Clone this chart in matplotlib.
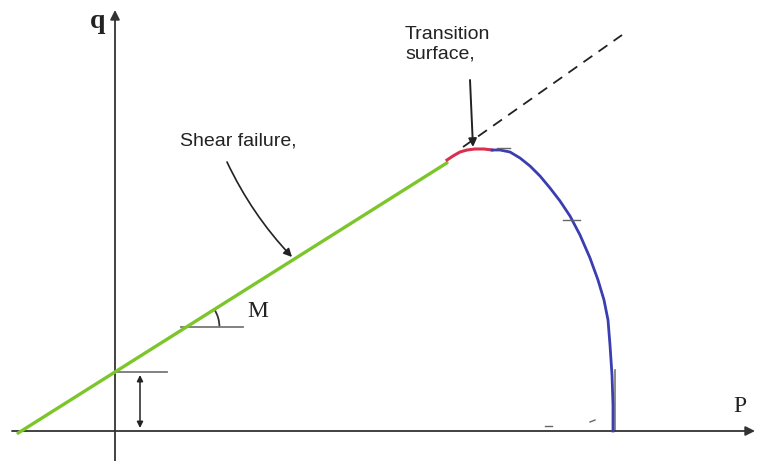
import matplotlib.pyplot as plt
import numpy as np
from matplotlib.patches import Arc

# p-q space (schematic units: 1 unit ~ 100 px)
slope_m = 0.63
intercept = 0.59
shear_p = np.array([-0.97, 3.32])

transition_p = [3.32, 3.38, 3.45, 3.52, 3.60, 3.69, 3.77]
transition_q = [2.71, 2.75, 2.79, 2.81, 2.82, 2.82, 2.81]

cap_p = [3.77, 3.85, 3.95, 4.05, 4.15, 4.25, 4.35, 4.45, 4.55, 4.65, 4.75,
         4.83, 4.89, 4.93, 4.95, 4.97, 4.98, 4.98]
cap_q = [2.81, 2.81, 2.79, 2.73, 2.65, 2.55, 2.43, 2.30, 2.15, 1.96, 1.73,
         1.51, 1.31, 1.11, 0.86, 0.56, 0.26, 0.0]

dashed_p = [3.48, 5.07]
dashed_q = [2.84, 3.96]

# small scan marks sitting on the curves
tick_p = [[3.82, 3.95], [4.48, 4.65], [4.30, 4.37], [4.75, 4.80]]
tick_q = [[2.83, 2.83], [2.11, 2.11], [0.05, 0.05], [0.09, 0.11]]

p_axis = (-1.03, 6.40)
q_axis = (-0.30, 4.21)

fig = plt.figure(figsize=(7.57, 4.61), dpi=100)
ax = fig.add_axes([0, 0, 1, 1])
ax.set_xlim(-1.15, 6.42)
ax.set_ylim(-0.30, 4.31)
ax.axis("off")

axis_color = "#333333"
ax.annotate("", xy=(p_axis[1], 0), xytext=(p_axis[0], 0),
            arrowprops=dict(arrowstyle="-|>", color=axis_color, lw=1.3,
                            mutation_scale=14, shrinkA=0, shrinkB=0))
ax.annotate("", xy=(0, q_axis[1]), xytext=(0, q_axis[0]),
            arrowprops=dict(arrowstyle="-|>", color=axis_color, lw=1.3,
                            mutation_scale=14, shrinkA=0, shrinkB=0))

# shear failure line
ax.plot(shear_p, intercept + slope_m * shear_p, color="#7cc62b", lw=2.4,
        solid_capstyle="round", zorder=3)
# transition surface
ax.plot(transition_p, transition_q, color="#d8304e", lw=2.2, zorder=3)
# compression cap
ax.plot(cap_p, cap_q, color="#3a3eb0", lw=2.0, zorder=3)
ax.plot([5.00, 5.00], [0.0, 0.61], color="#777777", lw=1.2, zorder=2)
# extension of failure line
ax.plot(dashed_p, dashed_q, color="#222222", lw=1.3, dashes=(6, 4.2))

for tp, tq in zip(tick_p, tick_q):
    ax.plot(tp, tq, color="#666666", lw=1.0, zorder=4)

# intercept marker
ax.plot([0, 0.52], [intercept, intercept], color="#777777", lw=1.3)
ax.annotate("", xy=(0.25, 0.03), xytext=(0.25, 0.56),
            arrowprops=dict(arrowstyle="<|-|>", color="#222222", lw=1.1,
                            mutation_scale=9, shrinkA=0, shrinkB=0))

# slope M marker
m_q = 1.04
m_p = (m_q - intercept) / slope_m
ax.plot([m_p - 0.05, 1.28], [m_q, m_q], color="#777777", lw=1.3)
ax.add_patch(Arc((m_p, m_q), 0.66, 0.66, theta1=0,
                 theta2=np.degrees(np.arctan(slope_m)), color="#333333", lw=1.3))

serif = ["Liberation Serif", "DejaVu Serif"]
sans = ["Liberation Sans", "DejaVu Sans"]
ax.text(1.32, 1.14, "M", fontsize=17, family=serif, color="#222222",
        va="baseline", ha="left")
ax.text(-0.25, 4.09, "q", fontsize=20, family=serif, fontweight="bold",
        color="#222222", va="center", ha="left")
ax.text(6.18, 0.19, "P", fontsize=17, family=serif, color="#222222",
        va="baseline", ha="left")

ax.text(0.65, 2.85, "Shear failure,", fontsize=14, family=sans, color="#222222",
        va="baseline", ha="left")
ax.annotate("", xy=(1.77, 1.74), xytext=(1.12, 2.69),
            arrowprops=dict(arrowstyle="-|>", color="#222222", lw=1.2,
                            mutation_scale=12, shrinkA=0, shrinkB=0,
                            connectionstyle="arc3,rad=0.08"))

ax.text(2.90, 4.05, "Transition\nsurface,", fontsize=14, family=sans,
        color="#222222", va="top", ha="left", linespacing=1.2)
ax.annotate("", xy=(3.58, 2.84), xytext=(3.55, 3.51),
            arrowprops=dict(arrowstyle="-|>", color="#222222", lw=1.4,
                            mutation_scale=12, shrinkA=0, shrinkB=0))

fig.savefig("out.png", dpi=100)
